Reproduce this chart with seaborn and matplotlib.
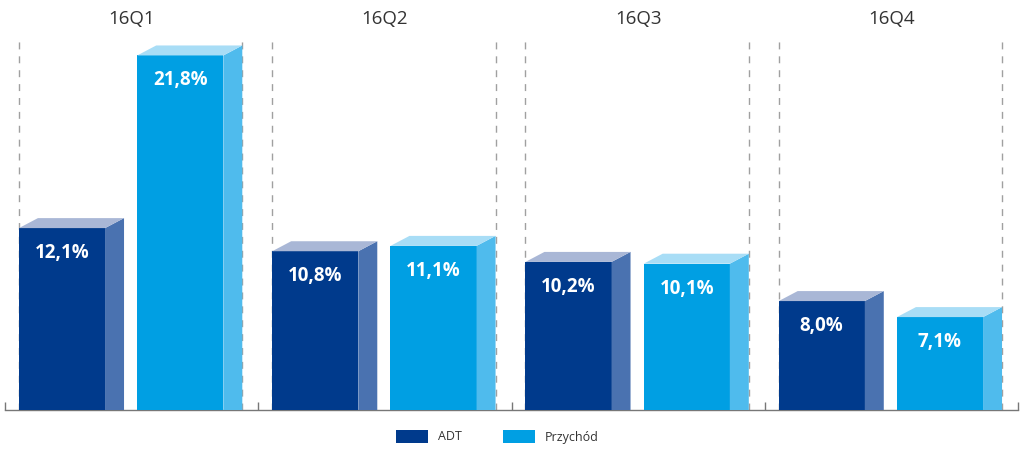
import numpy as np
import pandas as pd
import matplotlib.pyplot as plt
import seaborn as sns
from matplotlib.patches import Polygon, Rectangle

quarters = ["16Q1", "16Q2", "16Q3", "16Q4"]
series = ["ADT", "Przychód"]
adt = [12.1, 10.8, 10.2, 8.0]
przychod = [21.8, 11.1, 10.1, 7.1]
labels_adt = ["12,1%", "10,8%", "10,2%", "8,0%"]
labels_prz = ["21,8%", "11,1%", "10,1%", "7,1%"]

front = {"ADT": "#003a8c", "Przychód": "#009fe3"}
side = {"ADT": "#4a72b0", "Przychód": "#4fbbed"}
top = {"ADT": "#a9b7d6", "Przychód": "#a8ddf6"}

df = pd.DataFrame({
    "kw": quarters * 2,
    "seria": ["ADT"] * 4 + ["Przychód"] * 4,
    "val": adt + przychod,
})

sns.set_theme(style="white")
plt.rcParams["font.family"] = ["Open Sans", "DejaVu Sans"]

fig = plt.figure(figsize=(10.23, 4.51), dpi=100)
ax = fig.add_axes([5 / 1023, 41 / 451, 1013 / 1023, 375 / 451])

y0, y1 = 1.88, 22.95
x0, x1 = -0.4585, 3.5415

sns.barplot(data=df, x="kw", y="val", hue="seria", order=quarters,
            hue_order=series, palette=front, width=0.934, gap=0.272,
            saturation=1, legend=False, ax=ax, zorder=3,
            linewidth=0, edgecolor="none")

ax.set_xlim(x0, x1)
ax.set_ylim(y0, y1)

# 3D depth in data units (19 px across, 10 px up)
px_x = (x1 - x0) / 1013
px_y = (y1 - y0) / 375
dx = 19 * px_x
dy = 10 * px_y

bars = [p for p in ax.patches if isinstance(p, Rectangle)]
texts = labels_adt + labels_prz
for i, p in enumerate(bars):
    s = series[i // 4]
    l = p.get_x()
    r = l + p.get_width()
    h = p.get_height()
    ax.add_patch(Polygon([(r, y0), (r, h), (r + dx, h + dy), (r + dx, y0)],
                         closed=True, facecolor=side[s], edgecolor="none",
                         lw=0, zorder=3, clip_on=False))
    ax.add_patch(Polygon([(l, h), (r, h), (r + dx, h + dy), (l + dx, h + dy)],
                         closed=True, facecolor=top[s], edgecolor="none",
                         lw=0, zorder=3, clip_on=False))
    ax.text((l + r) / 2, h - 25 * px_y, texts[i], ha="center", va="center",
            color="white", fontsize=13.5, fontweight="bold", zorder=4)
    # dashed guide lines at outer edges of each group
    if s == "ADT":
        ax.plot([l, l], [y0, y1], ls=(0, (5, 5)), color="#a0a0a0", lw=1,
                zorder=1)
    else:
        ax.plot([r + dx, r + dx], [y0, y1], ls=(0, (5, 5)), color="#a0a0a0",
                lw=1, zorder=1)

# quarter titles
for i, q in enumerate(quarters):
    cx = x0 + (i + 0.5) * (x1 - x0) / 4
    ax.text(cx, y1 + 16 * px_y, q, ha="center", va="center", fontsize=13.5,
            color="#333333", clip_on=False)

for sp in ["top", "right", "left"]:
    ax.spines[sp].set_visible(False)
ax.spines["bottom"].set_color("#777777")
ax.spines["bottom"].set_linewidth(1)
ax.set_xticks([x0 + k * (x1 - x0) / 4 for k in range(5)])
ax.set_xticklabels([])
ax.tick_params(axis="x", direction="in", length=6, color="#777777",
               width=1, bottom=True)
ax.set_yticks([])
ax.set_xlabel("")
ax.set_ylabel("")

# legend
for s, xs in zip(series, [396, 503]):
    fig.patches.append(Rectangle((xs / 1023, (451 - 443) / 451), 32 / 1023,
                                 13 / 451, transform=fig.transFigure,
                                 facecolor=front[s], edgecolor="none"))
    fig.text((xs + 42) / 1023, (451 - 437) / 451, s, ha="left",
             va="center", fontsize=9, color="#333333")

fig.savefig("out.png", dpi=100)
